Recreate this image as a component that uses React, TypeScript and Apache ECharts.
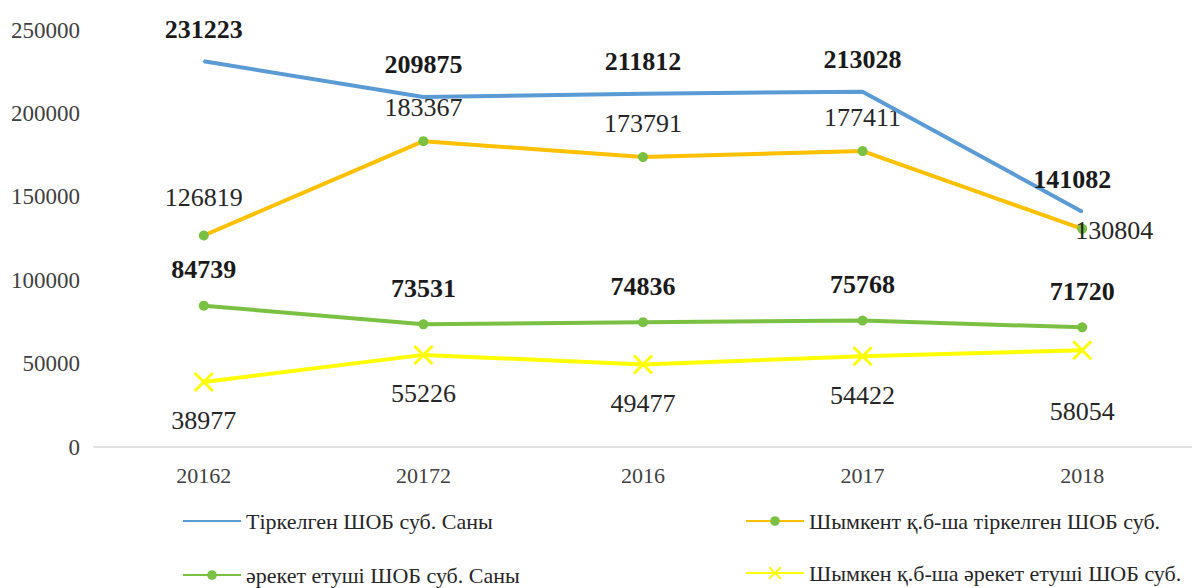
import React, { useEffect, useRef } from "react";
import * as echarts from "echarts";

const categories = ["20162", "20172", "2016", "2017", "2018"];
const seriesNames = [
  "Тіркелген ШОБ суб. Саны",
  "Шымкент қ.б-ша тіркелген ШОБ суб.",
  "әрекет етуші ШОБ суб. Саны",
  "Шымкен қ.б-ша әрекет етуші ШОБ суб.",
];
const registered = [231223, 209875, 211812, 213028, 141082];
const shymkentRegistered = [126819, 183367, 173791, 177411, 130804];
const active = [84739, 73531, 74836, 75768, 71720];
const shymkentActive = [38977, 55226, 49477, 54422, 58054];
const yTicks = [0, 50000, 100000, 150000, 200000, 250000];

const FONT = "Liberation Serif";
const X_PATH =
  "path://M0,2 L2,0 L10,8 L18,0 L20,2 L12,10 L20,18 L18,20 L10,12 L2,20 L0,18 L8,10 Z";

export default function App() {
  const ref = useRef<HTMLDivElement>(null);
  useEffect(() => {
    if (!ref.current) return;
    const chart = echarts.init(ref.current, undefined, { renderer: "svg" });
    const boldLabel = {
      show: true,
      position: "top",
      distance: 18,
      fontFamily: FONT,
      fontSize: 26,
      fontWeight: "bold",
      color: "#1a1a1a",
    };
    const normalLabel = {
      show: true,
      position: "top",
      distance: 16,
      fontFamily: FONT,
      fontSize: 26,
      fontWeight: "normal",
      color: "#262626",
    };
    const legendBase = {
      padding: 0,
      itemWidth: 58,
      itemHeight: 12,
      itemGap: 2,
      textStyle: { fontFamily: FONT, fontSize: 22, fontWeight: "normal", color: "#262626" },
    };
    chart.setOption({
      animation: false,
      backgroundColor: "#ffffff",
      textStyle: { fontFamily: FONT },
      grid: { left: 94, width: 1110, top: 30, height: 417 },
      xAxis: {
        type: "category",
        data: categories,
        boundaryGap: true,
        axisLine: { lineStyle: { color: "#d9d9d9", width: 1.5 } },
        axisTick: { show: false },
        axisLabel: { fontFamily: FONT, fontSize: 22, color: "#404040", margin: 17 },
      },
      yAxis: {
        type: "value",
        min: yTicks[0],
        max: yTicks[yTicks.length - 1],
        interval: 50000,
        axisLine: { show: false },
        axisTick: { show: false },
        splitLine: { show: false },
        axisLabel: {
          fontFamily: FONT,
          fontSize: 23,
          color: "#404040",
          margin: 14,
          formatter: (v: number) => String(v),
        },
      },
      legend: [
        {
          ...legendBase,
          data: [{ name: seriesNames[0], itemStyle: { opacity: 0 } }],
          left: 182,
          top: 510,
        },
        { ...legendBase, data: [seriesNames[1]], left: 745, top: 510 },
        { ...legendBase, data: [seriesNames[2]], left: 182, top: 564 },
        { ...legendBase, itemHeight: 16, data: [seriesNames[3]], left: 745, top: 562 },
      ],
      series: [
        {
          name: seriesNames[0],
          type: "line",
          data: registered.map((v, i) =>
            i === 4 ? { value: v, label: { offset: [-10, 0] } } : v
          ),
          symbol: "circle",
          symbolSize: 2,
          showSymbol: true,
          lineStyle: { color: "#5B9BD5", width: 4 },
          itemStyle: { color: "#5B9BD5" },
          label: boldLabel,
          z: 4,
        },
        {
          name: seriesNames[1],
          type: "line",
          data: shymkentRegistered.map((v, i) =>
            i === 4
              ? { value: v, label: { position: "right", distance: -12, offset: [0, 2] } }
              : i === 0
              ? { value: v, label: { distance: 20 } }
              : v
          ),
          symbol: "circle",
          symbolSize: 10,
          lineStyle: { color: "#FFC000", width: 4 },
          itemStyle: { color: "#7AC143" },
          label: normalLabel,
          z: 3,
        },
        {
          name: seriesNames[2],
          type: "line",
          data: active,
          symbol: "circle",
          symbolSize: 10,
          lineStyle: { color: "#7AC143", width: 4 },
          itemStyle: { color: "#7AC143" },
          label: { ...boldLabel, distance: 18 },
          z: 3,
        },
        {
          name: seriesNames[3],
          type: "line",
          data: shymkentActive.map((v, i) =>
            i === 4 ? { value: v, label: { distance: 38 } } : v
          ),
          symbol: X_PATH,
          symbolSize: 20,
          lineStyle: { color: "#FFFF00", width: 4 },
          itemStyle: { color: "#FFFF00" },
          label: { ...normalLabel, position: "bottom", distance: 16 },
          z: 2,
        },
      ],
    });
    return () => chart.dispose();
  }, []);
  return (
    <div
      ref={ref}
      style={{ position: "fixed", left: 0, top: 0, width: 1192, height: 588, background: "#fff" }}
    />
  );
}
